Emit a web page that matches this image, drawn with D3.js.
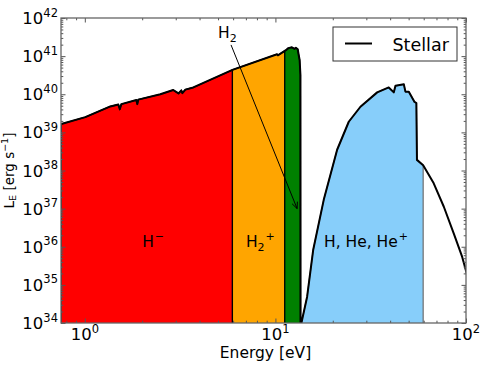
<!DOCTYPE html>
<html>
<head>
<meta charset="utf-8">
<script src="https://cdn.jsdelivr.net/npm/d3@7"></script>
<style>
  body { margin: 0; background: #fff; }
  text { font-family: "DejaVu Sans", sans-serif; }
</style>
</head>
<body>
<svg id="chart" width="491" height="368"></svg>
<script>
// stellar spectrum (energy in eV, luminosity in erg/s)
let stellarE = [0.753, 1.006, 1.361, 1.499, 1.526, 1.555, 1.864, 1.886, 1.908, 2.49,
    2.91, 3.10, 3.21, 3.25, 3.37, 3.71, 5.95, 10.2, 10.3, 11.3,
    11.7, 12.2, 12.6, 12.8, 13.1, 13.25, 13.4, 13.53, 13.55, 13.69,
    14.67, 15.78, 17.93, 21.08, 24.26, 27.94, 34.2, 39.33, 41.8, 42.66,
    47.2, 48.1, 50.1, 53.7, 54.9, 55.3, 59.6, 67.7, 76.5, 86.3,
    95.5, 101.5];
let stellarL = [1.66e39, 2.51e39, 4.79e39, 5.37e39, 4.07e39, 5.50e39, 7.08e39, 5.50e39, 7.24e39, 1.0e40,
    1.29e40, 1.05e40, 1.26e40, 1.07e40, 1.32e40, 1.51e40, 4.37e40, 1.12e41, 1.05e41, 1.41e41,
    1.62e41, 1.70e41, 1.55e41, 1.66e41, 1.51e41, 1.07e41, 7.9e40, 3.2e40, 1e33, 1e34,
    4.9e34, 8.2e35, 1.7e37, 3.5e38, 1.9e39, 4.7e39, 1.12e40, 1.51e40, 1.12e40, 1.66e40,
    1.82e40, 1.17e40, 1.17e40, 6.3e39, 5.9e39, 1.9e38, 1.38e38, 4.6e37, 1.12e37, 2.2e36,
    5.4e35, 1.8e35];

// absorption bands: edges in eV
let bandStart = [0.75, 5.95, 11.2, 13.55];
let bandEnd   = [5.95, 11.2, 13.55, 59.6];
let bandFill  = ["#ff0000", "#ffa500", "#008000", "#87cefa"];
let bandEdge  = ["#000", "#000", "#000", "#6f6f6f"];

// band labels: [text, subscript, superscript, energy, luminosity]
let labelText = ["H", "H", "H, He, He"];
let labelSub  = ["", "2", ""];
let labelSup  = ["\u2212", "+", "+"];
let labelE    = [2, 7, 18];
let labelL    = [1e36, 1e36, 1e36];

// H2 annotation
let h2TextE = 5, h2TextL = 3e41;
let h2ArrowE = 13, h2ArrowL = 1e37;

let xTickExp = [0, 1, 2];
let yTickExp = [34, 35, 36, 37, 38, 39, 40, 41, 42];

let width = 491, height = 368;
let margin = {top: 18, right: 25, bottom: 45, left: 61};

let svg = d3.select("#chart");

let x = d3.scaleLog().domain([0.75, 100]).range([margin.left, width - margin.right]);
let y = d3.scaleLog().domain([1e34, 1e42]).range([height - margin.bottom, margin.top]);

svg.append("defs").append("clipPath").attr("id", "plotclip")
    .append("rect")
    .attr("x", margin.left).attr("y", margin.top)
    .attr("width", width - margin.left - margin.right)
    .attr("height", height - margin.top - margin.bottom);

let points = stellarE.map(function(e, i) { return [e, stellarL[i]]; });

// log-log interpolation of the spectrum
function valueAt(e) {
    for (let i = 0; i < points.length - 1; i++) {
        let a = points[i], b = points[i + 1];
        if (e >= a[0] && e <= b[0]) {
            let t = (Math.log(e) - Math.log(a[0])) / (Math.log(b[0]) - Math.log(a[0]));
            return Math.exp(Math.log(a[1]) + t * (Math.log(b[1]) - Math.log(a[1])));
        }
    }
    return points[points.length - 1][1];
}

let plot = svg.append("g").attr("clip-path", "url(#plotclip)");

let area = d3.area()
    .x(function(d) { return x(d[0]); })
    .y0(function(d) { return y(1e33); })
    .y1(function(d) { return y(d[1]); });

for (let k = 0; k < bandStart.length; k++) {
    let a = bandStart[k], b = bandEnd[k];
    let seg = [[a, valueAt(a)]];
    points.forEach(function(p) { if (p[0] > a && p[0] < b) seg.push(p); });
    seg.push([b, valueAt(b)]);
    plot.append("path")
        .datum(seg)
        .attr("d", area)
        .attr("fill", bandFill[k])
        .attr("stroke", bandEdge[k])
        .attr("stroke-width", 1.2);
}

let line = d3.line()
    .x(function(d) { return x(d[0]); })
    .y(function(d) { return y(d[1]); });

plot.append("path")
    .datum(points)
    .attr("d", line)
    .attr("fill", "none")
    .attr("stroke", "#000")
    .attr("stroke-width", 2)
    .attr("stroke-linejoin", "round");

// ticks (inward, all four sides)
let xMajor = xTickExp.map(function(p) { return Math.pow(10, p); });
let yMajor = yTickExp.map(function(p) { return Math.pow(10, p); });
let xMinor = [], yMinor = [];
for (let p = -1; p < 2; p++) for (let m = 2; m < 10; m++) {
    let v = m * Math.pow(10, p);
    if (v > 0.75 && v < 100) xMinor.push(v);
}
for (let p = 34; p < 42; p++) for (let m = 2; m < 10; m++) yMinor.push(m * Math.pow(10, p));

function drawTicks(axis, values, size, pos) {
    let g = svg.append("g")
        .attr("transform", pos)
        .call(axis.tickValues(values).tickSize(-size).tickFormat(""));
    g.select(".domain").remove();
    g.selectAll("line").attr("stroke", "#555").attr("stroke-width", 1);
}
let plotW = width - margin.left - margin.right;
let plotH = height - margin.top - margin.bottom;
drawTicks(d3.axisBottom(x), xMajor, 4.5, "translate(0," + (height - margin.bottom) + ")");
drawTicks(d3.axisBottom(x), xMinor, 2.3, "translate(0," + (height - margin.bottom) + ")");
drawTicks(d3.axisTop(x), xMajor, 4.5, "translate(0," + margin.top + ")");
drawTicks(d3.axisTop(x), xMinor, 2.3, "translate(0," + margin.top + ")");
drawTicks(d3.axisLeft(y), yMajor, 4.5, "translate(" + margin.left + ",0)");
drawTicks(d3.axisLeft(y), yMinor, 2.3, "translate(" + margin.left + ",0)");
drawTicks(d3.axisRight(y), yMajor, 4.5, "translate(" + (width - margin.right) + ",0)");
drawTicks(d3.axisRight(y), yMinor, 2.3, "translate(" + (width - margin.right) + ",0)");

// frame
svg.append("rect")
    .attr("x", margin.left).attr("y", margin.top)
    .attr("width", plotW).attr("height", plotH)
    .attr("fill", "none")
    .attr("stroke", "#666")
    .attr("stroke-width", 1.3);

// tick labels
xTickExp.forEach(function(p) {
    let t = svg.append("text")
        .attr("x", x(Math.pow(10, p)))
        .attr("y", 340)
        .attr("text-anchor", "middle")
        .attr("font-size", 16.5);
    t.append("tspan").text("10");
    t.append("tspan").attr("dy", -7.5).attr("font-size", 11.5).text(p);
});
yTickExp.forEach(function(p) {
    let t = svg.append("text")
        .attr("x", margin.left - 3)
        .attr("y", y(Math.pow(10, p)) + 6)
        .attr("text-anchor", "end")
        .attr("font-size", 16.5);
    t.append("tspan").text("10");
    t.append("tspan").attr("dy", -7.5).attr("font-size", 11.5).text(p);
});

// axis titles
svg.append("text")
    .attr("x", margin.left + plotW / 2 + 2)
    .attr("y", 358)
    .attr("text-anchor", "middle")
    .attr("font-size", 15.5)
    .text("Energy [eV]");

let yl = svg.append("text")
    .attr("transform", "translate(13.5," + (margin.top + plotH / 2) + ") rotate(-90)")
    .attr("text-anchor", "middle")
    .attr("font-size", 13.5);
yl.append("tspan").text("L");
yl.append("tspan").attr("dy", 2.7).attr("font-size", 9.5).text("E");
yl.append("tspan").attr("dy", -2.7).text(" [erg s");
yl.append("tspan").attr("dy", -5.5).attr("font-size", 9.5).text("\u22121");
yl.append("tspan").attr("dy", 5.5).text("]");

// band labels
labelText.forEach(function(s, i) {
    let t = svg.append("text")
        .attr("x", x(labelE[i]))
        .attr("y", y(labelL[i]))
        .attr("font-size", 15.5);
    t.append("tspan").text(s);
    if (labelSub[i]) {
        t.append("tspan").attr("dy", 4).attr("font-size", 11).text(labelSub[i]);
        t.append("tspan").attr("dy", -11).attr("dx", 1).attr("font-size", 11).text(labelSup[i]);
    } else {
        t.append("tspan").attr("dy", -7).attr("dx", 1).attr("font-size", 11).text(labelSup[i]);
    }
});

// H2 annotation with arrow
let h2 = svg.append("text")
    .attr("x", x(h2TextE))
    .attr("y", y(h2TextL))
    .attr("font-size", 15.5);
h2.append("tspan").text("H");
h2.append("tspan").attr("dy", 4).attr("font-size", 11).text("2");

let ax0 = x(h2TextE) + 13, ay0 = y(h2TextL) + 7;
let ax1 = x(h2ArrowE), ay1 = y(h2ArrowL);
let ang = Math.atan2(ay1 - ay0, ax1 - ax0);
let head = 7, spread = 0.42;
svg.append("path")
    .attr("d", "M" + ax0 + "," + ay0 + "L" + ax1 + "," + ay1 +
        "M" + (ax1 - head * Math.cos(ang - spread)) + "," + (ay1 - head * Math.sin(ang - spread)) +
        "L" + ax1 + "," + ay1 +
        "L" + (ax1 - head * Math.cos(ang + spread)) + "," + (ay1 - head * Math.sin(ang + spread)))
    .attr("fill", "none")
    .attr("stroke", "#000")
    .attr("stroke-width", 1);

// legend
let lgX = width - margin.right - 133, lgY = margin.top + 9;
let lg = svg.append("g");
lg.append("rect")
    .attr("x", lgX).attr("y", lgY)
    .attr("width", 124).attr("height", 34)
    .attr("fill", "#fff")
    .attr("stroke", "#333")
    .attr("stroke-width", 1);
lg.append("line")
    .attr("x1", lgX + 12).attr("x2", lgX + 39)
    .attr("y1", lgY + 16.5).attr("y2", lgY + 16.5)
    .attr("stroke", "#000").attr("stroke-width", 2);
lg.append("text")
    .attr("x", lgX + 59.5).attr("y", lgY + 23.5)
    .attr("font-size", 17.5)
    .text("Stellar");
</script>
</body>
</html>
